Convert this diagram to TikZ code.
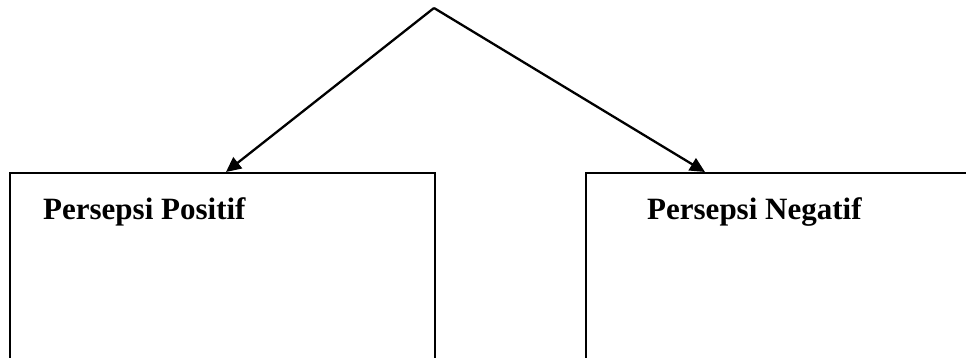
\documentclass[tikz,border=0pt]{standalone}
\usepackage{fontspec}
\setmainfont{Liberation Serif}
\usetikzlibrary{arrows.meta}
\begin{document}
\begin{tikzpicture}[x=1pt,y=-1pt,
  boxst/.style={draw=black,line width=2.3pt,anchor=north west,inner sep=0pt,minimum height=230pt},
  lbl/.style={anchor=base west,inner sep=0pt,font=\fontsize{31}{36}\selectfont\bfseries},
  conn/.style={line width=2.3pt,-{Triangle[length=15pt,width=14pt]}}]
\useasboundingbox (0,0) rectangle (966,358);
\clip (0,0) rectangle (966,358);
\node[boxst,minimum width=425pt] (lbox) at (9,172) {};
\node[boxst,minimum width=420pt] (rbox) at (585,172) {};
\node[lbl] (ltext) at (43,219) {Persepsi Positif};
\node[lbl] (rtext) at (647,219) {Persepsi Negatif};
\coordinate (apex) at (434,8);
\coordinate (lt) at ([xshift=217pt]lbox.north west);
\coordinate (rt) at ([xshift=120pt]rbox.north west);
\draw[conn] (apex) -- (lt);
\draw[conn] (apex) -- (rt);
\end{tikzpicture}
\end{document}
